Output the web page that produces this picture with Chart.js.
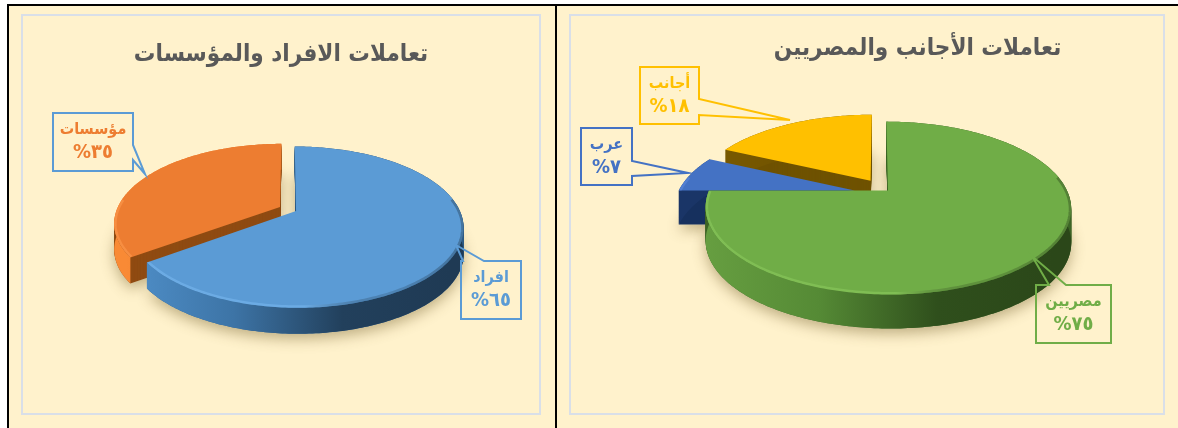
<!DOCTYPE html>
<html lang="ar">
<head>
<meta charset="utf-8">
<script src="https://cdn.jsdelivr.net/npm/chart.js@4"></script>
<style>
  html, body { margin: 0; padding: 0; background: #fff; }
  #page { position: relative; width: 1178px; height: 428px; overflow: hidden; }
  #sheet { position: absolute; left: 7px; top: 4px; right: 0; bottom: 0; background: #fff2cc;
           border-left: 2px solid #000; border-top: 2px solid #000; }
  #divider { position: absolute; left: 555px; top: 4px; bottom: 0; width: 2px; background: #000; }
  .frame { position: absolute; top: 14px; height: 397px; border: 2px solid #d9dfe8; }
  canvas { position: absolute; left: 0; top: 0; }
</style>
</head>
<body>
<div id="page">
  <div id="sheet"></div>
  <div id="divider"></div>
  <div class="frame" style="left:21px;width:516px"><canvas id="people" width="516" height="397"></canvas></div>
  <div class="frame" style="left:569px;width:592px"><canvas id="origin" width="592" height="397"></canvas></div>
</div>
<script>
const peopleTitle = 'تعاملات الافراد والمؤسسات';
const peopleLabels = ['افراد', 'مؤسسات'];
const peopleValues = [65, 35];

const originTitle = 'تعاملات الأجانب والمصريين';
const originLabels = ['مصريين', 'عرب', 'أجانب'];
const originValues = [75, 7, 18];

const FONT = '"DejaVu Sans Condensed", "DejaVu Sans", sans-serif';
const toArabicDigits = n => String(n).replace(/\d/g, d => '٠١٢٣٤٥٦٧٨٩'[d]);

// wall colours go left to right along the rim, cut is the flat inner face
const peopleStyle = [
  { top: '#5b9bd5', text: '#5b9bd5', cut: '#2f5d86', wall: ['#4f8fc9', '#3d74a6', '#22405c', '#1f3a54'], light: '#79b8f0' },
  { top: '#ed7d31', text: '#ed7d31', cut: '#8f4b12', wall: ['#f98a35', '#ea7a2c', '#c8641f', '#a85318'], light: '#ff9c4f' }
];
const originStyle = [
  { top: '#70ad47', text: '#70ad47', cut: '#3e6527', wall: ['#679f41', '#558a35', '#2f4f1c', '#2b4719'], light: '#8ccb5e' },
  { top: '#4472c4', text: '#4472c4', cut: '#16305f', wall: ['#1a3567', '#16305f', '#16305f', '#16305f'], light: '#5f8ade', lift: 7 },
  { top: '#ffc000', text: '#ffc000', cut: '#6f5200', wall: ['#7a5a00', '#6f5200', '#6f5200', '#6f5200'], light: '#ffd23f' }
];

// fake 3d: the library gives the angles and offsets, this tilts them
const pie3d = {
  id: 'pie3d',
  beforeDatasetsDraw(chart, args, opts) {
    const ctx = chart.ctx;
    const v = opts.view;
    const arcs = chart.getDatasetMeta(0).data;

    const project = (fx, fy, drop) => {
      const w = 1 - v.persp * fy / v.r;
      return [v.cx + fx / w, v.cy + v.tilt * fy / w + drop];
    };
    const rimAt = (arc, a, drop) => {
      const mid = (arc.startAngle + arc.endAngle) / 2;
      const off = arc.options.offset;
      return project(Math.cos(a) * v.r + Math.cos(mid) * off, Math.sin(a) * v.r + Math.sin(mid) * off, drop);
    };
    const rim = (arc, drop) => {
      const pts = [];
      const n = Math.ceil((arc.endAngle - arc.startAngle) * 60);
      for (let i = 0; i <= n; i++) {
        pts.push(rimAt(arc, arc.startAngle + (arc.endAngle - arc.startAngle) * i / n, drop));
      }
      return pts;
    };
    const apex = (arc, drop) => {
      const mid = (arc.startAngle + arc.endAngle) / 2;
      return project(Math.cos(mid) * arc.options.offset, Math.sin(mid) * arc.options.offset, drop);
    };
    const trace = pts => {
      ctx.beginPath();
      pts.forEach((p, i) => i ? ctx.lineTo(p[0], p[1]) : ctx.moveTo(p[0], p[1]));
      ctx.closePath();
    };
    const wedge = (arc, drop) => [apex(arc, drop)].concat(rim(arc, drop));

    // soft shadow on the sheet
    ctx.save();
    ctx.shadowColor = 'rgba(110,90,40,0.45)';
    ctx.shadowBlur = 14;
    ctx.shadowOffsetY = 5;
    ctx.fillStyle = '#e6dcbc';
    arcs.forEach((arc, i) => {
      trace(wedge(arc, v.depth + (opts.styles[i].lift || 0)));
      ctx.fill();
    });
    ctx.restore();

    for (let i = arcs.length - 1; i >= 0; i--) {
      const arc = arcs[i];
      const st = opts.styles[i];
      const lift = st.lift || 0;

      ctx.fillStyle = st.cut;
      for (let d = v.depth; d > 0; d -= 1) {
        trace(wedge(arc, d + lift));
        ctx.fill();
      }

      const g = ctx.createLinearGradient(v.cx - v.r, 0, v.cx + v.r, 0);
      st.wall.forEach((c, k) => g.addColorStop(k / (st.wall.length - 1), c));
      ctx.fillStyle = g;
      trace(rim(arc, lift).concat(rim(arc, v.depth + lift).reverse()));
      ctx.fill();

      const top = wedge(arc, lift);
      trace(top);
      ctx.fillStyle = st.top;
      ctx.fill();

      // bevel along the edge of the top face
      ctx.save();
      trace(top);
      ctx.clip();
      const b = ctx.createLinearGradient(v.cx - v.r, 0, v.cx + v.r, 0);
      b.addColorStop(0, st.light);
      b.addColorStop(0.55, st.light);
      b.addColorStop(0.8, 'rgba(0,0,0,0.25)');
      b.addColorStop(1, 'rgba(0,0,0,0.45)');
      ctx.strokeStyle = b;
      ctx.lineJoin = 'round';
      const front = rim(arc, lift).filter(p => p[1] > v.cy - 10);
      ctx.lineWidth = 5;
      ctx.globalAlpha = 0.55;
      ctx.beginPath();
      front.forEach((p, k) => k ? ctx.lineTo(p[0], p[1]) : ctx.moveTo(p[0], p[1]));
      ctx.stroke();
      ctx.restore();
    }

    // callouts
    opts.callouts.forEach((c, i) => {
      const st = opts.styles[i];
      ctx.save();
      ctx.strokeStyle = c.line || st.text;
      ctx.lineWidth = 2;
      ctx.lineJoin = 'miter';
      ctx.beginPath();
      const { x, y, w, h, tip, from, to, side } = c;
      ctx.moveTo(x, y);
      if (side === 'top') {
        ctx.lineTo(x + from, y); ctx.lineTo(tip[0], tip[1]); ctx.lineTo(x + to, y);
      }
      ctx.lineTo(x + w, y);
      if (side === 'right') {
        ctx.lineTo(x + w, y + from); ctx.lineTo(tip[0], tip[1]); ctx.lineTo(x + w, y + to);
      }
      ctx.lineTo(x + w, y + h);
      ctx.lineTo(x, y + h);
      ctx.closePath();
      ctx.stroke();

      ctx.direction = 'rtl';
      ctx.textAlign = 'center';
      ctx.textBaseline = 'middle';
      ctx.fillStyle = st.text;
      ctx.font = 'bold 16px ' + FONT;
      ctx.fillText(chart.data.labels[i], x + w / 2, y + 17);
      ctx.font = 'bold 20px ' + FONT;
      ctx.fillText(toArabicDigits(chart.data.datasets[0].data[i]) + '%', x + w / 2, y + 40);
      ctx.restore();
    });
    return false;
  }
};

function makePie(id, title, labels, values, offsets, styles, view, callouts, padLeft, titleTop) {
  return new Chart(document.getElementById(id), {
    type: 'pie',
    data: {
      labels: labels,
      datasets: [{
        data: values,
        offset: offsets,
        borderWidth: 0,
        backgroundColor: styles.map(s => s.top)
      }]
    },
    plugins: [pie3d],
    options: {
      responsive: false,
      animation: false,
      layout: { padding: { left: padLeft } },
      plugins: {
        legend: { display: false },
        tooltip: { enabled: false },
        title: {
          display: true,
          text: title,
          color: '#595959',
          font: { family: FONT, size: 24, weight: 'bold' },
          padding: { top: titleTop, bottom: 10 }
        },
        pie3d: { view: view, styles: styles, callouts: callouts }
      }
    }
  });
}

makePie('people', peopleTitle, peopleLabels, peopleValues, [9, 9], peopleStyle,
  { cx: 265, cy: 193, r: 163, tilt: 0.47, persp: 0.2, depth: 26 },
  [
    { x: 438, y: 245, w: 60, h: 58, side: 'top', from: 2, to: 23, tip: [433, 229] },
    { x: 30, y: 97, w: 80, h: 58, side: 'right', from: 32, to: 47, tip: [122, 158], line: '#5b9bd5' }
  ], 0, 24);

makePie('origin', originTitle, originLabels, originValues, [14, 24, 14], originStyle,
  { cx: 307, cy: 170, r: 177, tilt: 0.458, persp: 0.2, depth: 34 },
  [
    { x: 465, y: 269, w: 75, h: 58, side: 'top', from: 13, to: 30, tip: [461, 240] },
    { x: 10, y: 112, w: 51, h: 57, side: 'right', from: 33, to: 48, tip: [117, 157] },
    { x: 69, y: 51, w: 59, h: 57, side: 'right', from: 32, to: 48, tip: [219, 104] }
  ], 101, 18);
</script>
</body>
</html>
